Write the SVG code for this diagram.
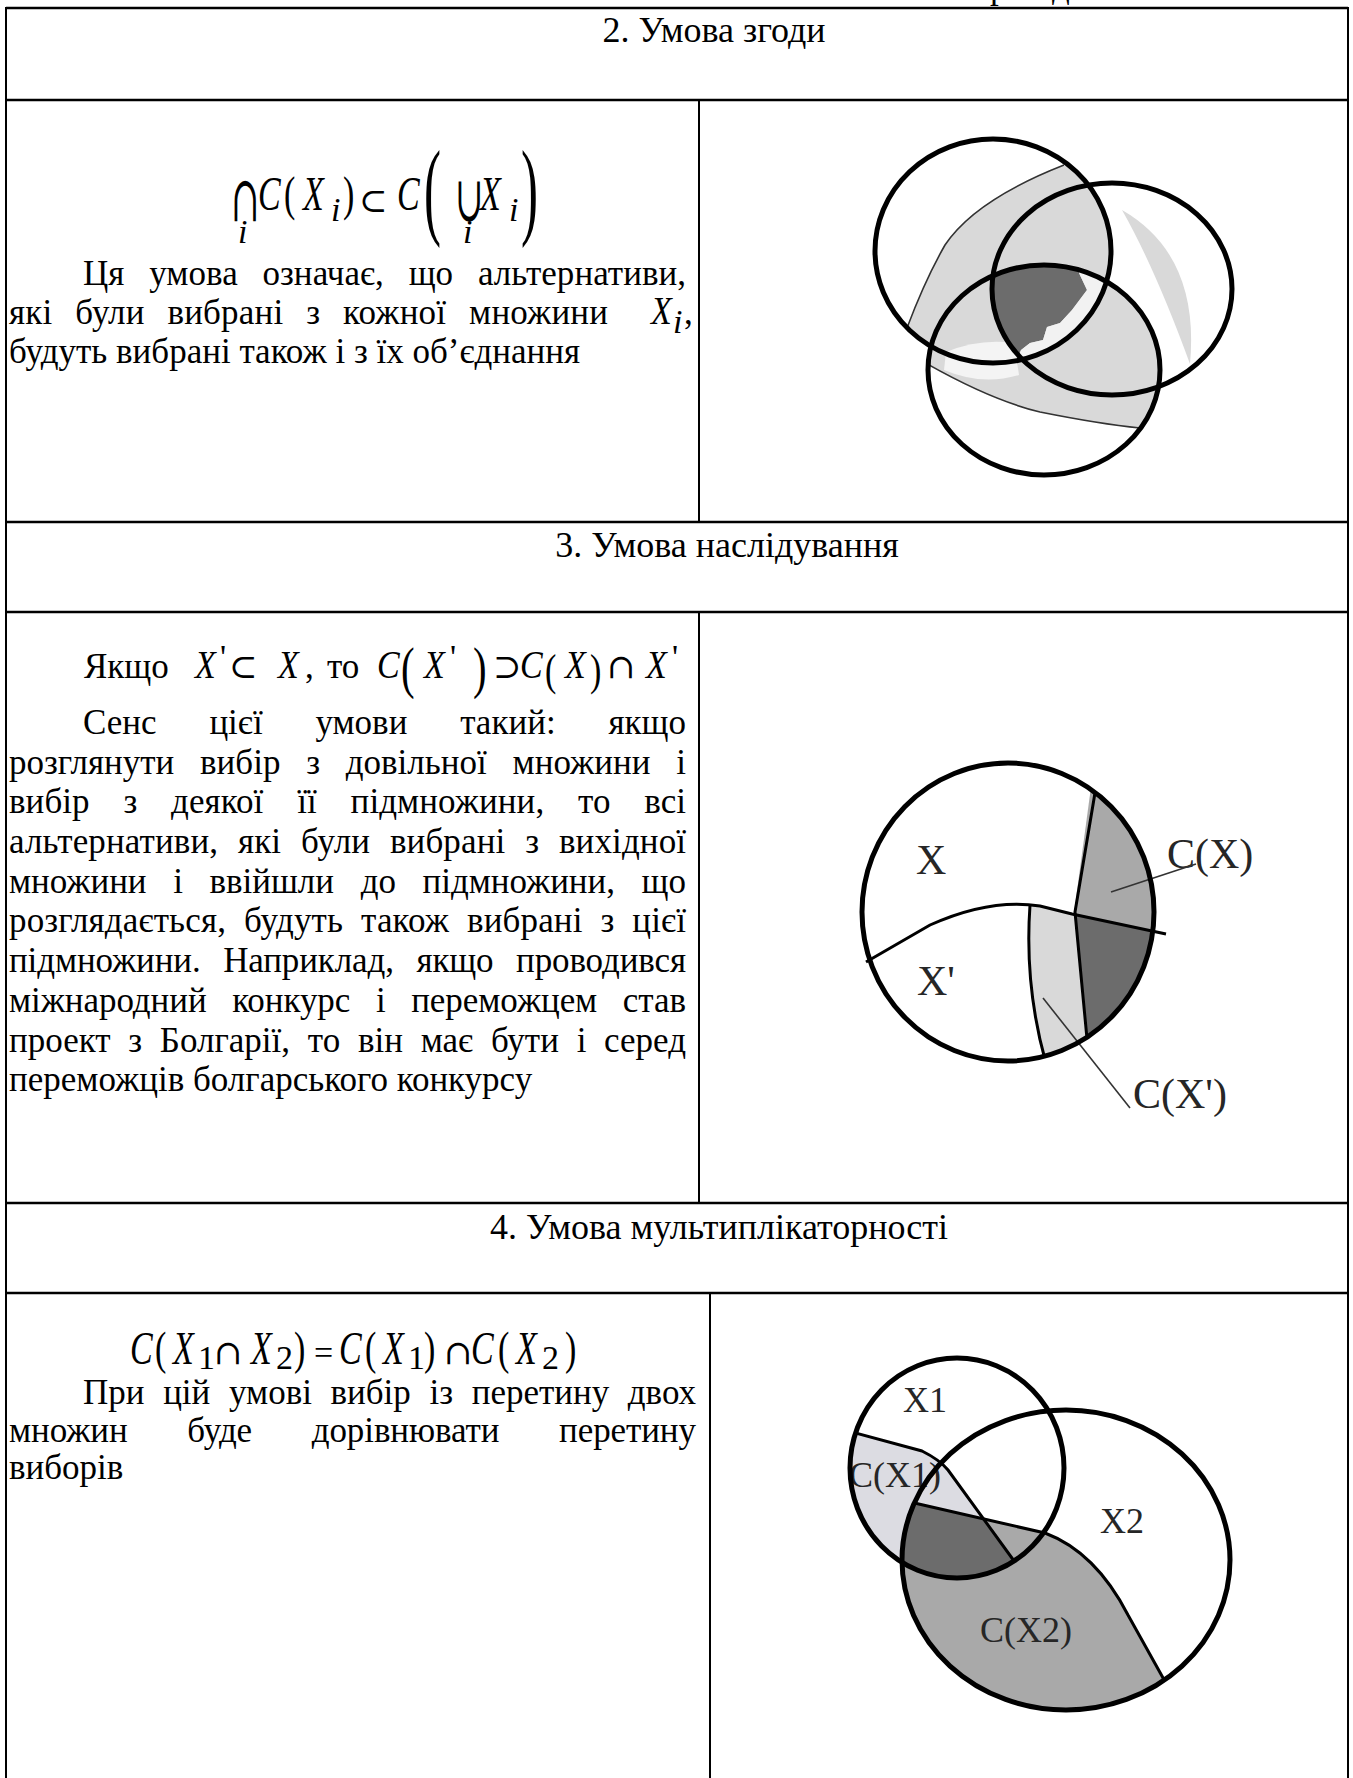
<svg xmlns="http://www.w3.org/2000/svg" width="1353" height="1778" viewBox="0 0 1353 1778">
<style>
.tx{font-family:"Liberation Serif","Times New Roman",serif;font-size:35px;fill:#000}
.hd{font-family:"Liberation Serif","Times New Roman",serif;font-size:36px;fill:#000;text-anchor:middle}
.mi{font-family:"Liberation Serif","Times New Roman",serif;font-style:italic;font-size:34px;fill:#000}
.mr{font-family:"Liberation Serif","Times New Roman",serif;font-size:34px;fill:#000}
.sy{font-family:"DejaVu Serif",serif;font-size:34px;fill:#000}
.lb{font-family:"Liberation Serif","Times New Roman",serif;fill:#262626}
.grid line{stroke:#000;stroke-width:2.5}
.grid line.v{stroke-width:2}
.ring{fill:none;stroke:#000;stroke-width:5}
.thin{fill:none;stroke:#333;stroke-width:1.6}
.cut{fill:none;stroke:#000;stroke-width:3}
.lt{fill:#d9d9d9}
.md{fill:#a9a9a9}
.dk{fill:#6c6c6c}
</style>
<defs>
<clipPath id="cA"><ellipse cx="993" cy="251" rx="118" ry="112"/></clipPath>
<clipPath id="cB"><ellipse cx="1112" cy="289" rx="120" ry="106"/></clipPath>
<clipPath id="cC"><ellipse cx="1044" cy="370" rx="116" ry="105"/></clipPath>
<clipPath id="cR"><ellipse cx="1008" cy="912" rx="146" ry="149"/></clipPath>
<clipPath id="cX1"><ellipse cx="957" cy="1468" rx="107" ry="110"/></clipPath>
<clipPath id="cX2"><ellipse cx="1066" cy="1560" rx="164" ry="150"/></clipPath>
<clipPath id="cP1"><path d="M852,1432 L922,1451 Q940,1460 948,1470 L1015,1562 L1030,1600 L830,1600 L830,1432 Z"/></clipPath>
</defs>
<rect width="1353" height="1778" fill="#fff"/>

<text class="tx" y="-2"><tspan x="990">р</tspan><tspan x="1052">д</tspan></text>

<g id="table" class="grid">
<line x1="6" y1="8" x2="1348" y2="8"/>
<line x1="6" y1="100" x2="1348" y2="100"/>
<line x1="6" y1="522" x2="1348" y2="522"/>
<line x1="6" y1="612" x2="1348" y2="612"/>
<line x1="6" y1="1203" x2="1348" y2="1203"/>
<line x1="6" y1="1293" x2="1348" y2="1293"/>
<line class="v" x1="6" y1="7" x2="6" y2="1778"/>
<line class="v" x1="1348" y1="7" x2="1348" y2="1778"/>
<line class="v" x1="699" y1="100" x2="699" y2="522"/>
<line class="v" x1="699" y1="612" x2="699" y2="1203"/>
<line class="v" x1="710" y1="1293" x2="710" y2="1778"/>
</g>

<g id="header-2"><text class="hd" x="714" y="42">2. Умова згоди</text></g>
<g id="header-3"><text class="hd" x="727" y="557">3. Умова наслідування</text></g>
<g id="header-4"><text class="hd" x="719" y="1239">4. Умова мультиплікаторності</text></g>

<g id="cell-2-text">
<text class="sy" transform="translate(231,221) scale(1,1.9)">∩</text>
<text class="mi" font-size="20" x="238" y="243">i</text>
<g transform="translate(0,210) scale(1,1.45)">
<text class="mi" x="258" y="0">C</text>
<text class="mr" x="284" y="0">(</text>
<text class="mi" x="303" y="0">X</text>
<text class="mr" x="343" y="0">)</text>
<text class="mi" x="397" y="0">C</text>
<text class="mi" x="480" y="0">X</text>
</g>
<text class="mi" font-size="21" x="331" y="221">i</text>
<text class="mi" font-size="21" x="509" y="221">i</text>
<text class="sy" font-size="36" x="359" y="212">⊂</text>
<text class="mr" transform="translate(424,225) scale(1.5,3.2)">(</text>
<text class="sy" transform="translate(455,221) scale(1,1.9)">∪</text>
<text class="mi" font-size="20" x="463" y="243">i</text>
<text class="mr" transform="translate(521,225) scale(1.5,3.2)">)</text>
<text class="tx" x="83" y="285" textLength="603" lengthAdjust="spacing" word-spacing="16">Ця умова означає, що альтернативи,</text>
<text class="tx" x="9" y="324" textLength="599" lengthAdjust="spacing" word-spacing="14">які були вибрані з кожної множини</text>
<text class="mi" transform="translate(651,324) scale(1,1.15)">X</text>
<text class="mi" font-size="20" x="673" y="333">i</text>
<text class="tx" x="684" y="324">,</text>
<text class="tx" x="9" y="363">будуть вибрані також і з їх об’єднання</text>
</g>

<g id="venn-2">
<path class="lt" clip-path="url(#cA)" d="M1062,166 Q975,200 945,245 Q925,280 909,325 L909,420 L1130,420 L1130,166 Z"/>
<path class="lt" clip-path="url(#cC)" d="M924,362 Q990,400 1040,412 Q1100,424 1138,428 L1170,428 L1170,250 L900,250 L900,362 Z"/>
<path class="lt" d="M1122,210 Q1200,255 1190,364 Q1155,268 1122,210 Z"/>
<path fill="#f4f4f4" clip-path="url(#cC)" d="M946,352 Q980,338 1014,343 L1019,375 Q982,386 944,370 Z"/>
<g clip-path="url(#cA)"><g clip-path="url(#cB)"><g clip-path="url(#cC)">
<path class="dk" d="M960,250 L1082,250 L1079,273 L1087,290 L1072,310 L1060,323 L1047,327 L1043,340 L1030,343 L1021,350 L1012,372 L960,372 Z"/>
<path fill="#f2f2f2" d="M1082,250 L1130,250 L1130,380 L1012,372 L1021,350 L1030,343 L1043,340 L1047,327 L1060,323 L1072,310 L1087,290 L1079,273 Z"/>
</g></g></g>
<path class="thin" clip-path="url(#cA)" d="M1064,165 Q975,200 945,245 Q925,280 907,328"/>
<path class="thin" clip-path="url(#cC)" d="M922,361 Q990,400 1040,412 Q1100,424 1140,428"/>
<ellipse class="ring" cx="993" cy="251" rx="118" ry="112"/>
<ellipse class="ring" cx="1112" cy="289" rx="120" ry="106"/>
<ellipse class="ring" cx="1044" cy="370" rx="116" ry="105"/>
</g>

<g id="cell-3-text">
<text class="tx" x="84" y="678">Якщо</text>
<g transform="translate(0,678) scale(1,1.2)">
<text class="mi" x="195" y="0">X</text>
<text class="mi" x="278" y="0">X</text>
<text class="mi" x="377" y="0">C</text>
<text class="mi" x="424" y="0">X</text>
<text class="mi" x="520" y="0">C</text>
<text class="mi" x="565" y="0">X</text>
<text class="mi" x="646" y="0">X</text>
</g>
<text class="mr" font-size="24" x="220" y="668">'</text>
<text class="mr" font-size="24" x="450" y="668">'</text>
<text class="mr" font-size="24" x="672" y="668">'</text>
<text class="sy" x="229" y="678">⊂</text>
<text class="tx" x="305" y="678">,</text>
<text class="tx" x="327" y="678">то</text>
<text class="mr" transform="translate(401,687) scale(1.2,1.65)">(</text>
<text class="mr" transform="translate(473,687) scale(1.2,1.65)">)</text>
<text class="sy" x="493" y="678">⊃</text>
<text class="mr" transform="translate(545,685) scale(1,1.3)">(</text>
<text class="mr" transform="translate(590,685) scale(1,1.3)">)</text>
<text class="sy" font-size="30" x="607" y="678">∩</text>
<text class="tx" x="83" y="734" textLength="603" lengthAdjust="spacing" word-spacing="44">Сенс цієї умови такий: якщо</text>
<text class="tx" x="9" y="774" textLength="677" lengthAdjust="spacing" word-spacing="17">розглянути вибір з довільної множини і</text>
<text class="tx" x="9" y="813" textLength="677" lengthAdjust="spacing" word-spacing="25">вибір з деякої її підмножини, то всі</text>
<text class="tx" x="9" y="853" textLength="677" lengthAdjust="spacing" word-spacing="11">альтернативи, які були вибрані з вихідної</text>
<text class="tx" x="9" y="893" textLength="677" lengthAdjust="spacing" word-spacing="18">множини і ввійшли до підмножини, що</text>
<text class="tx" x="9" y="932" textLength="677" lengthAdjust="spacing" word-spacing="9">розглядається, будуть також вибрані з цієї</text>
<text class="tx" x="9" y="972" textLength="677" lengthAdjust="spacing" word-spacing="14">підмножини. Наприклад, якщо проводився</text>
<text class="tx" x="9" y="1012" textLength="677" lengthAdjust="spacing" word-spacing="17">міжнародний конкурс і переможцем став</text>
<text class="tx" x="9" y="1052" textLength="677" lengthAdjust="spacing" word-spacing="9">проект з Болгарії, то він має бути і серед</text>
<text class="tx" x="9" y="1091">переможців болгарського конкурсу</text>
</g>

<g id="venn-3">
<path class="md" clip-path="url(#cR)" d="M1096,750 L1074,913 L1166,934 L1175,750 Z"/>
<path class="dk" clip-path="url(#cR)" d="M1074,913 L1088,1055 L1175,1070 L1166,934 Z"/>
<path class="lt" clip-path="url(#cR)" d="M1030,905 Q1024,990 1046,1070 L1088,1060 L1074,913 L1040,906 Z"/>
<text class="lb" font-size="42" x="916" y="874">X</text>
<text class="lb" font-size="42" x="917" y="995">X'</text>
<text class="lb" font-size="42" x="1167" y="868">C(X)</text>
<text class="lb" font-size="42" x="1133" y="1108">C(X')</text>
<path class="cut" clip-path="url(#cR)" d="M1098,775 L1075,912 L1089,1060"/>
<path class="cut" d="M866,962 L930,925 Q990,898 1040,906 L1072,914 L1166,934"/>
<path class="cut" clip-path="url(#cR)" d="M1030,905 Q1024,990 1048,1070"/>
<path class="thin" d="M1111,892 L1196,864"/>
<path class="thin" d="M1043,998 L1130,1108"/>
<ellipse class="ring" cx="1008" cy="912" rx="146" ry="149" stroke-width="5.5"/>
</g>

<g id="cell-4-text">
<g transform="translate(0,1364) scale(1,1.35)">
<text class="mi" x="130" y="0">C</text>
<text class="mr" x="155" y="0">(</text>
<text class="mi" x="173" y="0">X</text>
<text class="mi" x="251" y="0">X</text>
<text class="mr" x="294" y="0">)</text>
<text class="mi" x="339" y="0">C</text>
<text class="mr" x="365" y="0">(</text>
<text class="mi" x="383" y="0">X</text>
<text class="mr" x="424" y="0">)</text>
<text class="mi" x="471" y="0">C</text>
<text class="mr" x="498" y="0">(</text>
<text class="mi" x="516" y="0">X</text>
<text class="mr" x="565" y="0">)</text>
</g>
<text class="mr" font-size="20" x="198" y="1369">1</text>
<text class="mr" font-size="20" x="276" y="1369">2</text>
<text class="mr" font-size="20" x="408" y="1369">1</text>
<text class="mr" font-size="20" x="542" y="1369">2</text>
<text class="sy" x="214" y="1364">∩</text>
<text class="mr" x="314" y="1364">=</text>
<text class="sy" x="444" y="1364">∩</text>
<text class="tx" x="83" y="1404" textLength="613" lengthAdjust="spacing" word-spacing="10">При цій умові вибір із перетину двох</text>
<text class="tx" x="9" y="1442" textLength="687" lengthAdjust="spacing" word-spacing="51">множин буде дорівнювати перетину</text>
<text class="tx" x="9" y="1479">виборів</text>
</g>

<g id="venn-4">
<path fill="#dcdce2" clip-path="url(#cX1)" d="M852,1432 L922,1451 Q940,1460 948,1470 L1015,1562 L1030,1600 L830,1600 L830,1432 Z"/>
<path class="md" clip-path="url(#cX2)" d="M912,1502 L1045,1533 C1085,1548 1110,1580 1128,1615 L1170,1690 L1250,1730 L880,1730 L880,1502 Z"/>
<g clip-path="url(#cX1)"><g clip-path="url(#cP1)">
<path class="dk" clip-path="url(#cX2)" d="M912,1502 L1045,1533 C1085,1548 1110,1580 1128,1615 L1170,1690 L1250,1730 L880,1730 L880,1502 Z"/>
</g></g>
<text class="lb" font-size="36" x="903" y="1412">X1</text>
<text class="lb" font-size="36" x="849" y="1487">C(X1)</text>
<text class="lb" font-size="36" x="1100" y="1533">X2</text>
<text class="lb" font-size="36" x="980" y="1642">C(X2)</text>
<path class="cut" stroke-width="2.5" clip-path="url(#cX1)" d="M848,1431 L922,1451 Q940,1460 948,1470 L1017,1565"/>
<path class="cut" stroke-width="2.5" clip-path="url(#cX2)" d="M910,1502 L1045,1533 C1085,1548 1110,1580 1128,1615 L1172,1694"/>
<ellipse class="ring" cx="957" cy="1468" rx="107" ry="110"/>
<ellipse class="ring" cx="1066" cy="1560" rx="164" ry="150"/>
</g>
</svg>
